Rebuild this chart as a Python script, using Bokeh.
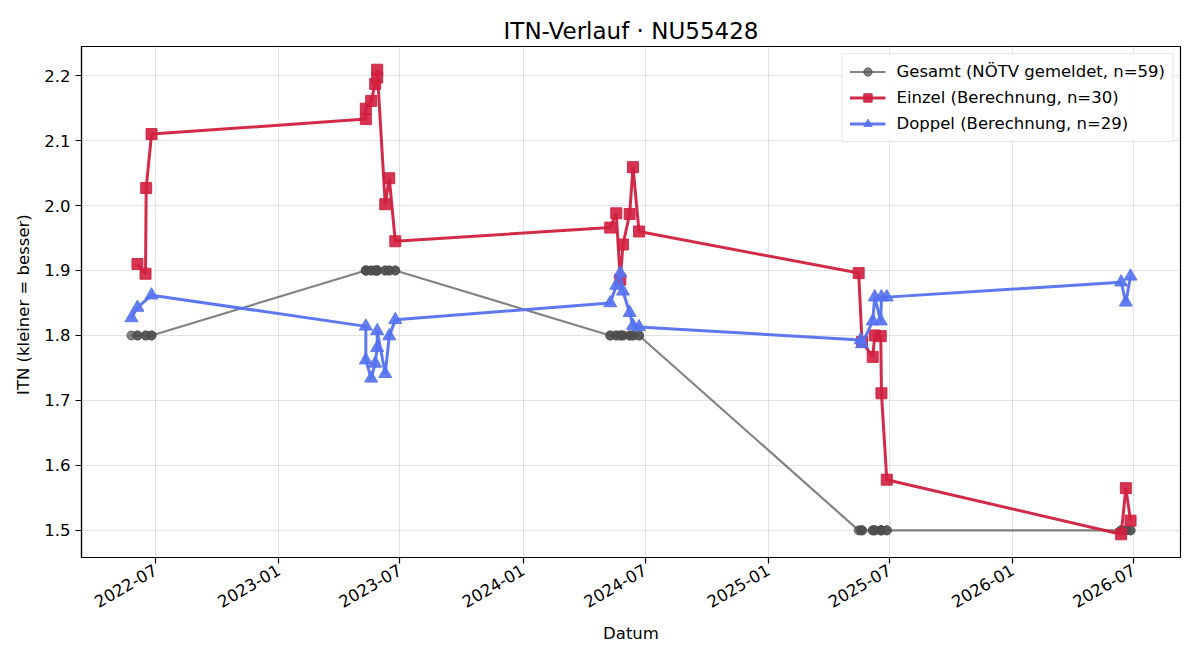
import math
import pandas as pd
from bokeh.plotting import figure
from bokeh.models import (ColumnDataSource, Range1d, FixedTicker, DatetimeTickFormatter,
                          NumeralTickFormatter, Legend, LegendItem)
from bokeh.embed import file_html
from bokeh.resources import INLINE

# --- ITN history of player NU55428 -------------------------------------------
einzel_dates = [
    "2022-06-04", "2022-06-16", "2022-06-17", "2022-06-25",
    "2023-05-11", "2023-05-11", "2023-05-19", "2023-05-25", "2023-05-28", "2023-05-28",
    "2023-06-09", "2023-06-15", "2023-06-24",
    "2024-05-10", "2024-05-19", "2024-05-25", "2024-05-29", "2024-06-08", "2024-06-13", "2024-06-22",
    "2025-05-16", "2025-05-21", "2025-06-06", "2025-06-09", "2025-06-18", "2025-06-19", "2025-06-27",
    "2026-06-12", "2026-06-19", "2026-06-26",
]
einzel_itn = [
    1.910, 1.895, 2.027, 2.110,
    2.133, 2.149, 2.161, 2.187, 2.197, 2.209,
    2.002, 2.042, 1.945,
    1.966, 1.988, 1.886, 1.940, 1.987, 2.059, 1.960,
    1.896, 1.790, 1.767, 1.800, 1.799, 1.711, 1.578,
    1.494, 1.565, 1.515,
]

doppel_dates = [
    "2022-05-26", "2022-06-04", "2022-06-25",
    "2023-05-11", "2023-05-11", "2023-05-19", "2023-05-25", "2023-05-28", "2023-05-28",
    "2023-06-09", "2023-06-15", "2023-06-24",
    "2024-05-10", "2024-05-19", "2024-05-25", "2024-05-29", "2024-06-08", "2024-06-13", "2024-06-22",
    "2025-05-19", "2025-05-21", "2025-06-06", "2025-06-09", "2025-06-18", "2025-06-19", "2025-06-27",
    "2026-06-12", "2026-06-19", "2026-06-26",
]
doppel_itn = [
    1.827, 1.843, 1.862,
    1.814, 1.762, 1.734, 1.757, 1.781, 1.807,
    1.741, 1.799, 1.824,
    1.850, 1.877, 1.896, 1.868, 1.835, 1.815, 1.813,
    1.793, 1.787, 1.822, 1.859, 1.822, 1.859, 1.859,
    1.882, 1.851, 1.891,
]

# reported (NÖTV) ITN for every match, in date order
gesamt_dates = sorted(einzel_dates + doppel_dates)
gesamt_itn = [
    1.8, 1.8, 1.8, 1.8, 1.8, 1.8, 1.8,
    1.9, 1.9, 1.9, 1.9, 1.9, 1.9, 1.9, 1.9, 1.9, 1.9, 1.9, 1.9, 1.9, 1.9, 1.9, 1.9, 1.9, 1.9,
    1.8, 1.8, 1.8, 1.8, 1.8, 1.8, 1.8, 1.8, 1.8, 1.8, 1.8, 1.8, 1.8, 1.8,
    1.5, 1.5, 1.5, 1.5, 1.5, 1.5, 1.5, 1.5, 1.5, 1.5, 1.5, 1.5, 1.5, 1.5,
    1.5, 1.5, 1.5, 1.5, 1.5, 1.5,
]

x_tick_dates = ["2022-07-01", "2023-01-01", "2023-07-01", "2024-01-01", "2024-07-01",
                "2025-01-01", "2025-07-01", "2026-01-01", "2026-07-01"]
y_ticks = [1.5, 1.6, 1.7, 1.8, 1.9, 2.0, 2.1, 2.2]


def ms(d):
    return pd.Timestamp(d).value / 1e6


FONT = "DejaVu Sans"
C_GES = "#4d4d4d"
C_EIN = "#d01f3f"
C_DOP = "#5471f0"

src_g = ColumnDataSource(dict(x=pd.to_datetime(gesamt_dates), y=gesamt_itn))
src_e = ColumnDataSource(dict(x=pd.to_datetime(einzel_dates), y=einzel_itn))
src_d = ColumnDataSource(dict(x=pd.to_datetime(doppel_dates), y=doppel_itn))

# 5 % padding around the data, as an autoscaled axis would do
all_x = [ms(d) for d in einzel_dates + doppel_dates]
all_y = einzel_itn + doppel_itn + gesamt_itn
xpad = 0.05 * (max(all_x) - min(all_x))
ypad = 0.05 * (max(all_y) - min(all_y))

p = figure(width=1200, height=660, x_axis_type="datetime",
           output_backend="svg", toolbar_location=None,
           min_border_left=81, min_border_right=20, min_border_top=46, min_border_bottom=103,
           x_range=Range1d(min(all_x) - xpad, max(all_x) + xpad),
           y_range=Range1d(min(all_y) - ypad, max(all_y) + ypad),
           title="ITN-Verlauf · NU55428")

p.title.text_font = FONT
p.title.text_font_size = "23px"
p.title.text_font_style = "normal"
p.title.align = "center"
p.title.text_color = "black"
p.title.standoff = 6

p.background_fill_color = "white"
p.border_fill_color = "white"
p.outline_line_color = "black"
p.outline_line_width = 1.2

# grid
for g in (p.xgrid, p.ygrid):
    g.grid_line_color = "#b0b0b0"
    g.grid_line_alpha = 0.35
    g.grid_line_width = 1

# axes
p.xaxis.ticker = FixedTicker(ticks=[ms(d) for d in x_tick_dates])
fmt = "%Y-%m"
p.xaxis.formatter = DatetimeTickFormatter(years=fmt, months=fmt, days=fmt, hours=fmt,
                                          minutes=fmt, seconds=fmt, milliseconds=fmt)
p.xaxis.major_label_orientation = math.radians(30)
p.yaxis.ticker = FixedTicker(ticks=y_ticks)
p.yaxis.formatter = NumeralTickFormatter(format="0.0")
p.xaxis.axis_label = "Datum"
p.yaxis.axis_label = "ITN  (kleiner = besser)"

for ax in (p.xaxis, p.yaxis):
    ax.axis_line_color = "black"
    ax.axis_line_width = 1.2
    ax.major_tick_line_color = "black"
    ax.major_tick_line_width = 1.2
    ax.major_tick_out = 6
    ax.major_tick_in = 0
    ax.minor_tick_line_color = None
    ax.major_label_text_font = FONT
    ax.major_label_text_font_size = "16.5px"
    ax.major_label_text_color = "black"
    ax.axis_label_text_font = FONT
    ax.axis_label_text_font_size = "16.5px"
    ax.axis_label_text_font_style = "normal"
    ax.axis_label_text_color = "black"
    ax.major_label_standoff = 5
p.xaxis.axis_label_standoff = 8
p.yaxis.axis_label_standoff = 8

# series
g_line = p.line("x", "y", source=src_g, line_color=C_GES, line_alpha=0.7, line_width=2.2)
g_pts = p.scatter("x", "y", source=src_g, marker="circle", size=9,
                  fill_color=C_GES, line_color=C_GES, fill_alpha=0.7, line_alpha=0.7)

e_line = p.line("x", "y", source=src_e, line_color=C_EIN, line_alpha=0.95, line_width=3)
e_pts = p.scatter("x", "y", source=src_e, marker="square", size=11,
                  fill_color=C_EIN, line_color=C_EIN, fill_alpha=0.9, line_alpha=0.9)

d_line = p.line("x", "y", source=src_d, line_color=C_DOP, line_alpha=0.95, line_width=3)
d_pts = p.scatter("x", "y", source=src_d, marker="triangle", size=13,
                  fill_color=C_DOP, line_color=C_DOP, fill_alpha=0.9, line_alpha=0.9)

legend = Legend(items=[
    LegendItem(label="Gesamt (NÖTV gemeldet, n=%d)" % len(gesamt_itn), renderers=[g_line, g_pts]),
    LegendItem(label="Einzel (Berechnung, n=%d)" % len(einzel_itn), renderers=[e_line, e_pts]),
    LegendItem(label="Doppel (Berechnung, n=%d)" % len(doppel_itn), renderers=[d_line, d_pts]),
], location="top_right")
legend.label_text_font = FONT
legend.label_text_font_size = "16.5px"
legend.label_text_color = "black"
legend.glyph_width = 36
legend.glyph_height = 21
legend.label_height = 21
legend.label_standoff = 11
legend.spacing = 5
legend.padding = 7
legend.margin = 7
legend.border_line_color = "#cccccc"
legend.border_line_width = 1
legend.background_fill_color = "white"
legend.background_fill_alpha = 0.85
p.add_layout(legend, "center")

open("out.html", "w").write(file_html(p, INLINE))
